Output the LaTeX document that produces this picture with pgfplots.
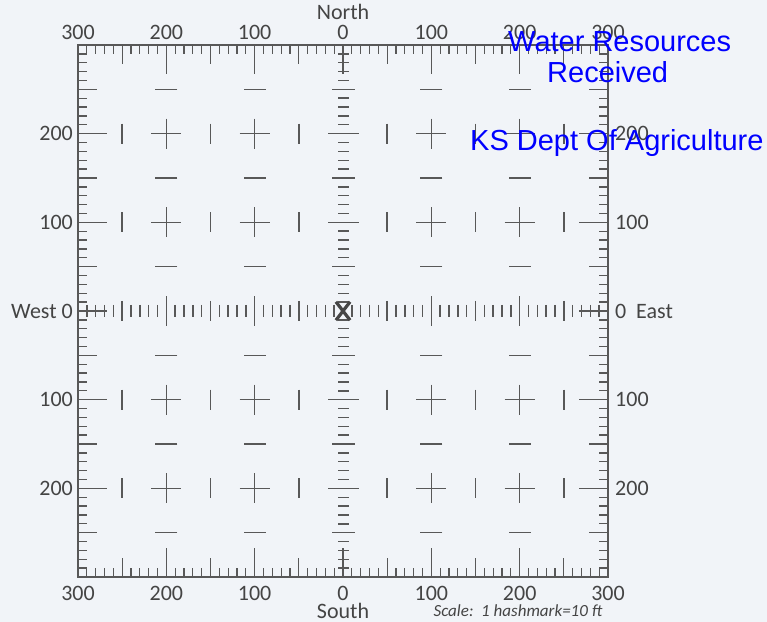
\documentclass[border=0pt]{standalone}
\usepackage{fontspec}
\setmainfont{Carlito}
\newfontfamily\arialf{Liberation Sans}
\usepackage{pgfplots}
\pgfplotsset{compat=1.18}
\definecolor{bg}{RGB}{241,244,248}
\definecolor{lg}{RGB}{88,88,88}
\definecolor{xg}{RGB}{70,70,70}
\definecolor{tc}{RGB}{68,68,68}
\definecolor{stamp}{RGB}{0,0,255}
\tikzset{lab/.style={font=\fontsize{22bp}{26bp}\selectfont, text=tc, inner sep=0pt},
  tl/.style={lab, anchor=base, yshift=5bp},
  bl/.style={lab, anchor=base, yshift=-23bp},
  ll/.style={lab, anchor=east, xshift=-5bp},
  rl/.style={lab, anchor=west, xshift=7bp}}
\begin{document}
\begin{tikzpicture}
\fill[bg] (-78bp,-45bp) rectangle (689bp,577bp);
\useasboundingbox (-78bp,-45bp) rectangle (689bp,577bp);
\begin{axis}[
  at={(0,0)}, anchor=south west, scale only axis,
  width=530bp, height=532bp,
  xmin=-300, xmax=300, ymin=-300, ymax=300,
  axis line style={draw=lg, line width=1.4bp},
  xtick={-300,-200,...,300}, ytick={-300,-200,...,300},
  minor x tick num=9, minor y tick num=9,
  xtick pos=both, ytick pos=both,
  tick align=inside,
  major tick length=29bp, minor tick length=9bp,
  tick style={draw=lg, line width=1.3bp},
  xticklabel=\empty, yticklabel=\empty,
  extra x ticks={-250,-150,-50,50,150,250},
  extra y ticks={-250,-150,-50,50,150,250},
  extra x tick labels={}, extra y tick labels={},
  extra tick style={major tick length=19bp, grid=none},
  clip=false,
  hm/.style={only marks, color=lg, mark options={line width=1.4bp, solid}},
]
% vertical centre axis (x = 0): horizontal hashmarks
\addplot[hm, mark=-, mark size=5.5bp] coordinates {(0,-290)(0,-280)(0,-270)(0,-260)(0,-240)(0,-230)(0,-220)(0,-210)(0,-190)(0,-180)(0,-170)(0,-160)(0,-140)(0,-130)(0,-120)(0,-110)(0,-90)(0,-80)(0,-70)(0,-60)(0,-40)(0,-30)(0,-20)(0,-10)(0,10)(0,20)(0,30)(0,40)(0,60)(0,70)(0,80)(0,90)(0,110)(0,120)(0,130)(0,140)(0,160)(0,170)(0,180)(0,190)(0,210)(0,220)(0,230)(0,240)(0,260)(0,270)(0,280)(0,290)};
\addplot[hm, mark=-, mark size=11.5bp] coordinates {(0,-250)(0,-150)(0,-50)(0,50)(0,150)(0,250)};
\addplot[hm, mark=-, mark size=15.5bp] coordinates {(0,-200)(0,-100)(0,100)(0,200)};
% horizontal centre axis (y = 0): vertical hashmarks
\addplot[hm, mark=|, mark size=6bp] coordinates {(-290,0)(-280,0)(-270,0)(-260,0)(-240,0)(-230,0)(-220,0)(-210,0)(-190,0)(-180,0)(-170,0)(-160,0)(-140,0)(-130,0)(-120,0)(-110,0)(-90,0)(-80,0)(-70,0)(-60,0)(-40,0)(-30,0)(-20,0)(-10,0)(10,0)(20,0)(30,0)(40,0)(60,0)(70,0)(80,0)(90,0)(110,0)(120,0)(130,0)(140,0)(160,0)(170,0)(180,0)(190,0)(210,0)(220,0)(230,0)(240,0)(260,0)(270,0)(280,0)(290,0)};
\addplot[hm, mark=|, mark size=10bp] coordinates {(-250,0)(-150,0)(-50,0)(50,0)(150,0)(250,0)};
\addplot[hm, mark=|, mark size=14.5bp] coordinates {(-200,0)(-100,0)(100,0)(200,0)};
% interior crosses
\addplot[hm, mark=+, mark size=15bp] coordinates {(-200,-200)(-200,-100)(-200,100)(-200,200)(-100,-200)(-100,-100)(-100,100)(-100,200)(100,-200)(100,-100)(100,100)(100,200)(200,-200)(200,-100)(200,100)(200,200)};
% interior dashes
\addplot[hm, mark=-, mark size=11bp] coordinates {(-200,-250)(-200,-150)(-200,-50)(-200,50)(-200,150)(-200,250)(-100,-250)(-100,-150)(-100,-50)(-100,50)(-100,150)(-100,250)(100,-250)(100,-150)(100,-50)(100,50)(100,150)(100,250)(200,-250)(200,-150)(200,-50)(200,50)(200,150)(200,250)};
% interior bars
\addplot[hm, mark=|, mark size=10bp] coordinates {(-250,-200)(-250,-100)(-250,100)(-250,200)(-150,-200)(-150,-100)(-150,100)(-150,200)(-50,-200)(-50,-100)(-50,100)(-50,200)(50,-200)(50,-100)(50,100)(50,200)(150,-200)(150,-100)(150,100)(150,200)(250,-200)(250,-100)(250,100)(250,200)};
% centre X
\addplot[only marks, color=xg, mark=x, mark size=10bp, mark options={line width=3.2bp, yscale=1.3, solid}] coordinates {(0,0)};
% top labels
\node[tl] at (axis cs:-300,300) {300};
\node[tl] at (axis cs:-200,300) {200};
\node[tl] at (axis cs:-100,300) {100};
\node[tl] at (axis cs:0,300) {0};
\node[tl] at (axis cs:100,300) {100};
\node[tl] at (axis cs:200,300) {200};
\node[tl] at (axis cs:300,300) {300};
% bottom labels
\node[bl] at (axis cs:-300,-300) {300};
\node[bl] at (axis cs:-200,-300) {200};
\node[bl] at (axis cs:-100,-300) {100};
\node[bl] at (axis cs:0,-300) {0};
\node[bl] at (axis cs:100,-300) {100};
\node[bl] at (axis cs:200,-300) {200};
\node[bl] at (axis cs:300,-300) {300};
\node[lab, anchor=base, yshift=25bp] at (axis cs:0,300) {North};
\node[lab, anchor=base, yshift=-41bp] at (axis cs:0,-300) {South};
\node[font=\fontsize{17bp}{20bp}\selectfont\itshape, text=tc, inner sep=0pt, anchor=base, yshift=-39bp] at (axis cs:198,-300) {Scale:\ \ 1 hashmark=10 ft};
% left labels
\node[ll] at (axis cs:-300,200) {200};
\node[ll] at (axis cs:-300,100) {100};
\node[ll] at (axis cs:-300,0) {West 0};
\node[ll] at (axis cs:-300,-100) {100};
\node[ll] at (axis cs:-300,-200) {200};
% right labels
\node[rl] at (axis cs:300,200) {200};
\node[rl] at (axis cs:300,100) {100};
\node[rl] at (axis cs:300,0) {0\hspace{0.45em}East};
\node[rl] at (axis cs:300,-100) {100};
\node[rl] at (axis cs:300,-200) {200};
\end{axis}
% stamp text
\begin{scope}[every node/.style={font=\arialf\fontsize{29bp}{34bp}\selectfont, text=stamp, inner sep=0pt, anchor=base west}]
\node at (430bp,525bp) {Water Resources};
\node at (469bp,494bp) {Received};
\node at (392bp,426bp) {KS Dept Of Agriculture};
\end{scope}
\end{tikzpicture}
\end{document}
